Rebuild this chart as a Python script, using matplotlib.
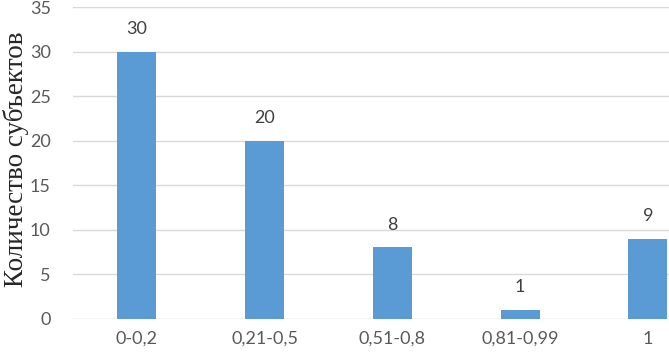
import matplotlib
matplotlib.use('Agg')
import matplotlib.pyplot as plt

categories = ['0-0,2', '0,21-0,5', '0,51-0,8', '0,81-0,99', '1']
counts = [30, 20, 8, 1, 9]
y_ticks = [0, 5, 10, 15, 20, 25, 30, 35]

fig = plt.figure(figsize=(6.69, 3.56), dpi=100)
ax = fig.add_axes([0.109, 0.105, 0.891, 0.875])

x = list(range(len(categories)))
bars = ax.bar(x, counts, width=0.305, color='#5B9BD5', zorder=3)

for xi, v in zip(x, counts):
    ax.text(xi, v + 1.6, str(v), ha='center', va='bottom', fontsize=13,
            family='Lato', color='#404040')

ax.set_xlim(-0.5, 4.165)
ax.set_ylim(0, 35)
ax.set_yticks(y_ticks)
ax.set_yticklabels([str(t) for t in y_ticks], family='Lato', fontsize=13, color='#595959')
ax.set_xticks(x)
ax.set_xticklabels(categories, family='Lato', fontsize=13, color='#595959')
ax.tick_params(axis='both', length=0)
ax.tick_params(axis='y', pad=16)
ax.tick_params(axis='x', pad=9)

ax.grid(axis='y', color='#D9D9D9', linewidth=1, zorder=0)
for s in ['top', 'right', 'left', 'bottom']:
    ax.spines[s].set_visible(False)

# axis title sits at the very left edge, as in the source
fig.text(0.0235, 0.553, 'Количество субъектов', rotation=90, ha='center', va='center',
         family='Liberation Serif', fontsize=19.5, color='#262626')

fig.savefig('out.png', dpi=100)
